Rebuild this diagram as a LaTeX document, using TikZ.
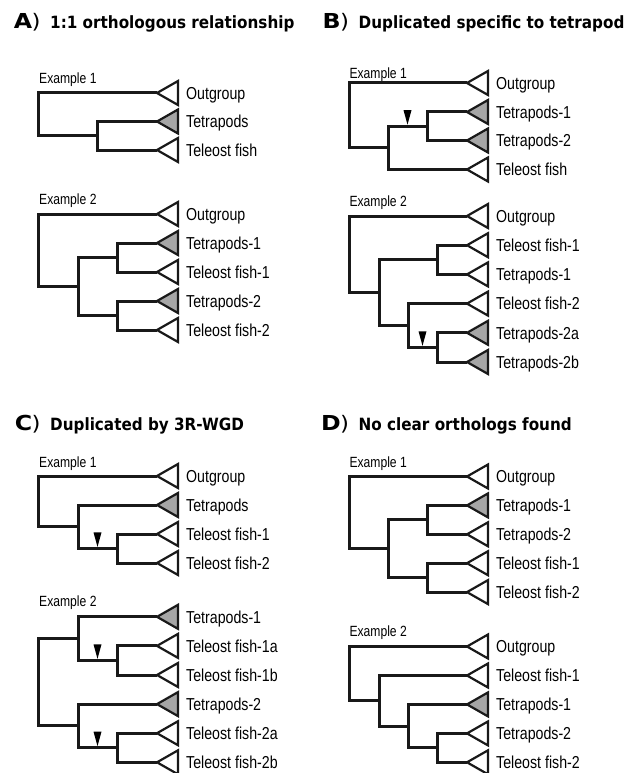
\documentclass[tikz,border=0pt]{standalone}
\usepackage{fontspec}
\setmainfont{Liberation Sans}
\newfontfamily\labelfont{Liberation Sans}[FakeStretch=0.82]
\newfontfamily\titlefont{DejaVu Sans}[FakeStretch=0.9]
\newfontfamily\letterfont{DejaVu Sans}[FakeStretch=1.15]
\usetikzlibrary{calc}

\colorlet{tetra}{black!35}
\tikzset{
  branch/.style={draw=black!90, line width=3pt},
  tri/.style={draw=black!90, line width=2.2pt, line join=miter},
  leaflab/.style={anchor=base west, inner sep=0pt, font=\labelfont\fontsize{17.3}{19}\selectfont},
  exlab/.style={anchor=base west, inner sep=0pt, font=\labelfont\fontsize{14.8}{16}\selectfont},
  letter/.style={anchor=base east, inner sep=0pt, font=\letterfont\bfseries\fontsize{20.6}{22}\selectfont},
  paren/.style={anchor=base west, inner sep=0pt, font=\letterfont\fontsize{20}{22}\selectfont},
  ttl/.style={anchor=base west, inner sep=0pt, font=\titlefont\bfseries\fontsize{16.9}{18}\selectfont},
  dupmark/.style={fill=black}
}

% leaf: name, position, fill, label
\newcommand{\leaf}[4]{%
  \coordinate (#1) at (#2);
  \draw[tri, fill=#3] (#1) -- ++(21,-12) -- ++(0,24) -- cycle;
  \node[leaflab] (#1l) at ([shift={(29,6.3)}]#1) {#4};}

% duplication mark on the branch from #1 to #2
\newcommand{\dup}[2]{%
  \fill[dupmark] ($(#1|-#2)!.5!(#2)$) ++(0,-1.6) -- ++(-4,-14.5) -- ++(8,0) -- cycle;}

\begin{document}
\begin{tikzpicture}[x=1pt, y=-1pt]
  \useasboundingbox (0,0) rectangle (639,773);

  % ---------- A ----------
  \node[letter] (aL) at (32.5,28.5) {A};
  \node[paren] (aP) at (31.5,28.5) {)};
  \node[ttl] (aT) at (50,28.5) {1:1 orthologous relationship};

  \node[exlab] (a1x) at (39,83.3) {Example 1};
  \leaf{a1o}{157,93}{white}{Outgroup}
  \leaf{a1t}{157,121.5}{tetra}{Tetrapods}
  \leaf{a1f}{157,150}{white}{Teleost fish}
  \coordinate (a1n) at (97,135.75);
  \coordinate (a1r) at (38,114.4);
  \draw[branch] (a1r) |- (a1o);
  \draw[branch] (a1r) |- (a1n);
  \draw[branch] (a1n) |- (a1t);
  \draw[branch] (a1n) |- (a1f);

  \node[exlab] (a2x) at (39,204) {Example 2};
  \leaf{a2o}{157,214}{white}{Outgroup}
  \leaf{a2t1}{157,243}{tetra}{Tetrapods-1}
  \leaf{a2f1}{157,272}{white}{Teleost fish-1}
  \leaf{a2t2}{157,301}{tetra}{Tetrapods-2}
  \leaf{a2f2}{157,330}{white}{Teleost fish-2}
  \coordinate (a2p) at (117,257.5);
  \coordinate (a2q) at (117,315.5);
  \coordinate (a2n) at (78,286.5);
  \coordinate (a2r) at (38,250.25);
  \draw[branch] (a2r) |- (a2o);
  \draw[branch] (a2r) |- (a2n);
  \draw[branch] (a2n) |- (a2p);
  \draw[branch] (a2n) |- (a2q);
  \draw[branch] (a2p) |- (a2t1);
  \draw[branch] (a2p) |- (a2f1);
  \draw[branch] (a2q) |- (a2t2);
  \draw[branch] (a2q) |- (a2f2);

  % ---------- B ----------
  \node[letter] (bL) at (341,29) {B};
  \node[paren] (bP) at (340,29) {)};
  \node[ttl] (bT) at (358.5,29) {Duplicated specific to tetrapod};

  \node[exlab] (b1x) at (349.3,79) {Example 1};
  \leaf{b1o}{467,83}{white}{Outgroup}
  \leaf{b1t1}{467,112}{tetra}{Tetrapods-1}
  \leaf{b1t2}{467,140.5}{tetra}{Tetrapods-2}
  \leaf{b1f}{467,169.5}{white}{Teleost fish}
  \coordinate (b1d) at (427,126.25);
  \coordinate (b1n) at (388,147.9);
  \coordinate (b1r) at (349,115.4);
  \draw[branch] (b1r) |- (b1o);
  \draw[branch] (b1r) |- (b1n);
  \draw[branch] (b1n) |- (b1d);
  \draw[branch] (b1n) |- (b1f);
  \draw[branch] (b1d) |- (b1t1);
  \draw[branch] (b1d) |- (b1t2);
  \dup{b1n}{b1d}

  \node[exlab] (b2x) at (349.3,206) {Example 2};
  \leaf{b2o}{467,216}{white}{Outgroup}
  \leaf{b2f1}{467,245.2}{white}{Teleost fish-1}
  \leaf{b2t1}{467,274.4}{white}{Tetrapods-1}
  \leaf{b2f2}{467,303.6}{white}{Teleost fish-2}
  \leaf{b2ta}{467,332.8}{tetra}{Tetrapods-2a}
  \leaf{b2tb}{467,362}{tetra}{Tetrapods-2b}
  \coordinate (b2p) at (437,259.8);
  \coordinate (b2s) at (437,347.4);
  \coordinate (b2q) at (408,325.5);
  \coordinate (b2n) at (379,292.65);
  \coordinate (b2r) at (349,254.3);
  \draw[branch] (b2r) |- (b2o);
  \draw[branch] (b2r) |- (b2n);
  \draw[branch] (b2n) |- (b2p);
  \draw[branch] (b2n) |- (b2q);
  \draw[branch] (b2p) |- (b2f1);
  \draw[branch] (b2p) |- (b2t1);
  \draw[branch] (b2q) |- (b2f2);
  \draw[branch] (b2q) |- (b2s);
  \draw[branch] (b2s) |- (b2ta);
  \draw[branch] (b2s) |- (b2tb);
  \dup{b2q}{b2s}

  % ---------- C ----------
  \node[letter] (cL) at (32.5,430) {C};
  \node[paren] (cP) at (31.5,430) {)};
  \node[ttl] (cT) at (50,430) {Duplicated by 3R-WGD};

  \node[exlab] (c1x) at (39,467.3) {Example 1};
  \leaf{c1o}{157,476}{white}{Outgroup}
  \leaf{c1t}{157,505}{tetra}{Tetrapods}
  \leaf{c1f1}{157,534}{white}{Teleost fish-1}
  \leaf{c1f2}{157,563}{white}{Teleost fish-2}
  \coordinate (c1d) at (117,548.5);
  \coordinate (c1n) at (78,526.75);
  \coordinate (c1r) at (38,501.4);
  \draw[branch] (c1r) |- (c1o);
  \draw[branch] (c1r) |- (c1n);
  \draw[branch] (c1n) |- (c1t);
  \draw[branch] (c1n) |- (c1d);
  \draw[branch] (c1d) |- (c1f1);
  \draw[branch] (c1d) |- (c1f2);
  \dup{c1n}{c1d}

  \node[exlab] (c2x) at (39,606.7) {Example 2};
  \leaf{c2t1}{157,616.8}{tetra}{Tetrapods-1}
  \leaf{c2fa}{157,645.9}{white}{Teleost fish-1a}
  \leaf{c2fb}{157,675}{white}{Teleost fish-1b}
  \leaf{c2t2}{157,704.1}{tetra}{Tetrapods-2}
  \leaf{c2gc}{157,733.2}{white}{Teleost fish-2a}
  \leaf{c2gd}{157,762.3}{white}{Teleost fish-2b}
  \coordinate (c2a) at (117,660.45);
  \coordinate (c2u) at (78,638.6);
  \coordinate (c2b) at (117,747.75);
  \coordinate (c2l) at (78,725.9);
  \coordinate (c2r) at (38,682.3);
  \draw[branch] (c2r) |- (c2u);
  \draw[branch] (c2r) |- (c2l);
  \draw[branch] (c2u) |- (c2t1);
  \draw[branch] (c2u) |- (c2a);
  \draw[branch] (c2a) |- (c2fa);
  \draw[branch] (c2a) |- (c2fb);
  \draw[branch] (c2l) |- (c2t2);
  \draw[branch] (c2l) |- (c2b);
  \draw[branch] (c2b) |- (c2gc);
  \draw[branch] (c2b) |- (c2gd);
  \dup{c2u}{c2a}
  \dup{c2l}{c2b}

  % ---------- D ----------
  \node[letter] (dL) at (341,430) {D};
  \node[paren] (dP) at (340,430) {)};
  \node[ttl] (dT) at (358.5,430) {No clear orthologs found};

  \node[exlab] (d1x) at (349.3,467.3) {Example 1};
  \leaf{d1o}{467,476.5}{white}{Outgroup}
  \leaf{d1t1}{467,505.4}{tetra}{Tetrapods-1}
  \leaf{d1t2}{467,534.3}{white}{Tetrapods-2}
  \leaf{d1f1}{467,563.2}{white}{Teleost fish-1}
  \leaf{d1f2}{467,592.1}{white}{Teleost fish-2}
  \coordinate (d1p) at (427,519.85);
  \coordinate (d1q) at (427,577.65);
  \coordinate (d1n) at (388,548.75);
  \coordinate (d1r) at (349,512.6);
  \draw[branch] (d1r) |- (d1o);
  \draw[branch] (d1r) |- (d1n);
  \draw[branch] (d1n) |- (d1p);
  \draw[branch] (d1n) |- (d1q);
  \draw[branch] (d1p) |- (d1t1);
  \draw[branch] (d1p) |- (d1t2);
  \draw[branch] (d1q) |- (d1f1);
  \draw[branch] (d1q) |- (d1f2);

  \node[exlab] (d2x) at (349.3,636.7) {Example 2};
  \leaf{d2o}{467,646.5}{white}{Outgroup}
  \leaf{d2f1}{467,675.5}{white}{Teleost fish-1}
  \leaf{d2t1}{467,704.4}{tetra}{Tetrapods-1}
  \leaf{d2t2}{467,733.4}{white}{Tetrapods-2}
  \leaf{d2f2}{467,762.3}{white}{Teleost fish-2}
  \coordinate (d2c) at (437,747.85);
  \coordinate (d2b) at (408,726.1);
  \coordinate (d2a) at (379,700.8);
  \coordinate (d2r) at (349,673.65);
  \draw[branch] (d2r) |- (d2o);
  \draw[branch] (d2r) |- (d2a);
  \draw[branch] (d2a) |- (d2f1);
  \draw[branch] (d2a) |- (d2b);
  \draw[branch] (d2b) |- (d2t1);
  \draw[branch] (d2b) |- (d2c);
  \draw[branch] (d2c) |- (d2t2);
  \draw[branch] (d2c) |- (d2f2);

\end{tikzpicture}
\end{document}
